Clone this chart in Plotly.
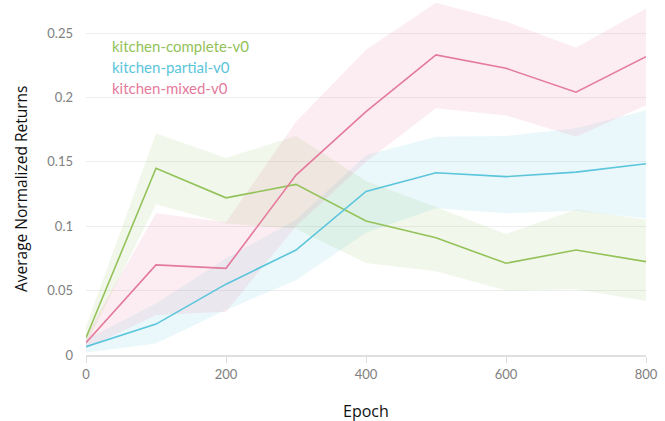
import plotly.graph_objects as go

epochs = [0, 100, 200, 300, 400, 500, 600, 700, 800]
names = ["kitchen-complete-v0", "kitchen-partial-v0", "kitchen-mixed-v0"]

complete_mean = [0.0134, 0.145, 0.122, 0.1325, 0.104, 0.091, 0.0712, 0.0815, 0.0725]
complete_upper = [0.022, 0.172, 0.153, 0.170, 0.135, 0.115, 0.094, 0.113, 0.105]
complete_lower = [0.008, 0.117, 0.102, 0.098, 0.0714, 0.065, 0.050, 0.051, 0.042]

partial_mean = [0.0065, 0.024, 0.055, 0.0815, 0.127, 0.1415, 0.1385, 0.142, 0.1485]
partial_upper = [0.012, 0.040, 0.075, 0.105, 0.155, 0.1695, 0.170, 0.176, 0.190]
partial_lower = [0.002, 0.009, 0.035, 0.058, 0.095, 0.114, 0.110, 0.112, 0.106]

mixed_mean = [0.0096, 0.070, 0.0673, 0.1397, 0.189, 0.233, 0.2226, 0.204, 0.2316]
mixed_upper = [0.015, 0.110, 0.103, 0.181, 0.237, 0.2735, 0.259, 0.2386, 0.269]
mixed_lower = [0.005, 0.031, 0.0336, 0.100, 0.150, 0.1915, 0.186, 0.1695, 0.194]

x_title = "Epoch"
y_title = "Average Normalized Returns"

line_colors = ["#93c25a", "#5bc5dc", "#e47a9c"]
fill_colors = ["rgba(150,195,90,0.13)", "rgba(91,197,220,0.12)", "rgba(232,118,154,0.13)"]

series = [
    (complete_mean, complete_upper, complete_lower),
    (partial_mean, partial_upper, partial_lower),
    (mixed_mean, mixed_upper, mixed_lower),
]

W, H = 665, 421
ML, MR, MT, MB = 86, 19, 1, 66
pw, ph = W - ML - MR, H - MT - MB


def px_to_paper(px_x, px_y):
    return (px_x - ML) / pw, 1 - (px_y - MT) / ph


fig = go.Figure()
for (m, u, l), fc in zip(series, fill_colors):
    fig.add_trace(go.Scatter(
        x=epochs + epochs[::-1], y=u + l[::-1], fill="toself",
        fillcolor=fc, line=dict(width=0), mode="lines",
        hoverinfo="skip", showlegend=False))
for (m, u, l), lc, nm in zip(series, line_colors, names):
    fig.add_trace(go.Scatter(
        x=epochs, y=m, mode="lines", name=nm,
        line=dict(color=lc, width=1.6), showlegend=False))

for i, (nm, lc) in enumerate(zip(names, line_colors)):
    ax, ay = px_to_paper(110, 46 + 21 * i)
    fig.add_annotation(
        x=ax, y=ay, xref="paper", yref="paper", text=nm,
        showarrow=False, xanchor="left", yanchor="middle",
        font=dict(family="Lato", size=15, color=lc))

tx, ty = px_to_paper(366, 411)
fig.add_annotation(x=tx, y=ty, xref="paper", yref="paper", text=x_title,
                   showarrow=False, xanchor="center", yanchor="middle",
                   font=dict(family="Open Sans", size=16, color="#111"))
tx, ty = px_to_paper(21, 189)
fig.add_annotation(x=tx, y=ty, xref="paper", yref="paper", text=y_title,
                   showarrow=False, xanchor="center", yanchor="middle", textangle=-90,
                   font=dict(family="Open Sans", size=15.5, color="#111"))

fig.update_layout(
    width=W, height=H,
    margin=dict(l=ML, r=MR, t=MT, b=MB),
    plot_bgcolor="white", paper_bgcolor="white",
    font=dict(family="Lato", color="#333"),
    xaxis=dict(
        range=[0, 800], tickvals=[0, 200, 400, 600, 800],
        showgrid=False, zeroline=False,
        showline=True, linecolor="#e0e0e0", linewidth=2,
        ticks="outside", ticklen=6, tickcolor="#dcdcdc",
        tickfont=dict(size=13, color="#808080"),
    ),
    yaxis=dict(
        range=[0, ph / 1288.0], tickvals=[0, 0.05, 0.1, 0.15, 0.2, 0.25],
        ticktext=["0", "0.05", "0.1", "0.15", "0.2", "0.25"],
        showgrid=True, gridcolor="#eeeeee", gridwidth=1, zeroline=False,
        showline=False, ticks="", ticklabelstandoff=12,
        tickfont=dict(size=13, color="#808080"),
    ),
)

fig.write_html("out.html")
